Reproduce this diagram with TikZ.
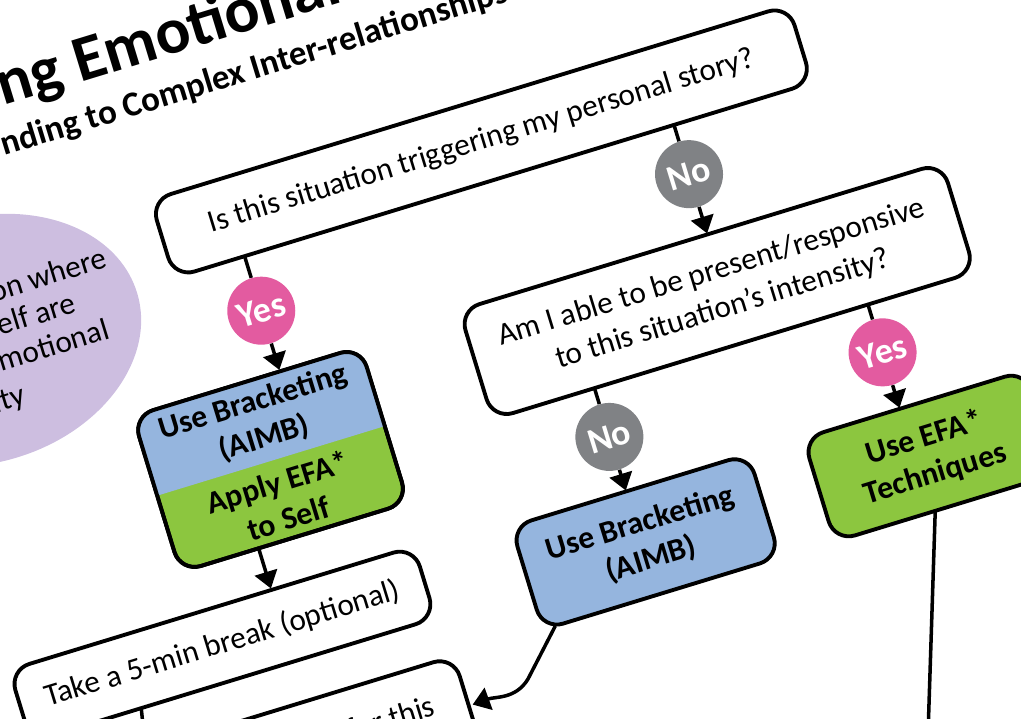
\documentclass[tikz,border=0pt]{standalone}
\usepackage{fontspec}
\setmainfont{Carlito}
\usetikzlibrary{arrows.meta,shapes.geometric}
\definecolor{pinkC}{HTML}{E35BA0}
\definecolor{greyC}{HTML}{808285}
\definecolor{blueC}{HTML}{95B5DE}
\definecolor{greenC}{HTML}{8CC63F}
\definecolor{purpleC}{HTML}{CDBEE0}
\begin{document}
\begin{tikzpicture}[x=0.02cm,y=-0.02cm,
  box/.style={draw, line width=2.2pt, rounded corners=0.42cm, inner sep=0pt, transform shape},
  qtext/.style={font=\fontsize{17.8}{22}\selectfont, align=center, transform shape},
  btext/.style={font=\fontsize{18.1}{21.5}\selectfont\bfseries, align=center, transform shape},
  badge/.style={circle, minimum size=1.36cm, inner sep=0pt, font=\fontsize{20.5}{22}\selectfont\bfseries, text=white, transform shape},
  link/.style={line width=2pt},
  arr/.style={line width=2pt, -{Triangle[width=0.46cm,length=0.34cm]}},
]
\useasboundingbox (0,0) rectangle (1021,719);
\clip (0,0) rectangle (1021,719);

% title and subtitle
\node[font=\fontsize{37}{40}\selectfont\bfseries, rotate=17, anchor=base west, inner sep=0pt] (title) at (3,106) {ng Emotional};
\node[font=\fontsize{19.9}{22}\selectfont\bfseries, rotate=17, anchor=base west, inner sep=0pt] (subtitle) at (4,156) {nding to Complex Inter-relationships};

\begin{scope}[rotate=17]
  % purple oval with its text
  \node[ellipse, fill=purpleC, minimum width=6.5cm, minimum height=4.9cm, transform shape] (oval) at (-117,320) {};
  \node[qtext, anchor=base east, inner sep=0pt] (o1) at (26,287) {on where};
  \node[qtext, anchor=base east, inner sep=0pt] (o2) at (-17,321) {elf are};
  \node[qtext, anchor=base east, inner sep=0pt] (o3) at (7.5,356) {motional};
  \node[qtext, anchor=base east, inner sep=0pt] (o4) at (-92,394) {ity};

  % boxes
  \node[box, qtext, fill=white, minimum width=13.34cm, minimum height=1.62cm] (q1) at (419,276) {Is this situation triggering my personal story?};
  \node[box, qtext, fill=white, minimum width=10.09cm, minimum height=2.28cm] (q2) at (600.8,488) {Am I able to be present/responsive\\to this situation’s intensity?};
  \node[box, fill=greenC, minimum width=4.76cm, minimum height=3.26cm] (lbox) at (124.4,518.5) {};
  \begin{scope}
    \clip[rounded corners=0.42cm] (5.4,437) rectangle (243.4,600);
    \fill[blueC] (0,430) rectangle (250,520);
  \end{scope}
  \node[box, minimum width=4.76cm, minimum height=3.26cm] (lboxrim) at (124.4,518.5) {};
  \node[btext] (lbt) at (124.4,478) {Use Bracketing\\(AIMB)};
  \node[btext] (lbb) at (124.4,561) {Apply EFA*\\to Self};
  \node[box, qtext, fill=white, minimum width=8.46cm, minimum height=1.5cm] (brk) at (24.4,681) {Take a 5-min break (optional)};
  \node[box, btext, fill=blueC, minimum width=4.96cm, minimum height=2.16cm] (bb) at (459,707) {Use Bracketing\\(AIMB)};
  \node[box, btext, fill=greenC, minimum width=4.64cm, minimum height=2.16cm] (gb) at (756,708) {Use EFA*\\Techniques};
  \node[box, fill=white, minimum width=8.64cm, minimum height=2.4cm] (fb) at (26,820) {};
  \node[qtext, anchor=base east, inner sep=0pt] (fbt) at (209,811) {for this};

  % badges
  \node[badge, fill=pinkC] (yes1) at (159,373.5) {Yes};
  \node[badge, fill=greyC] (no1) at (608,368) {No};
  \node[badge, fill=greyC] (no2) at (455,596) {No};
  \node[badge, fill=pinkC] (yes2) at (741,595) {Yes};

  % connector ends
  \coordinate (q1a) at (159,317);
  \coordinate (lbin) at (159,435.5);
  \coordinate (lbout) at (87,600);
  \coordinate (brkin) at (87,642);
  \coordinate (q1b) at (608,317);
  \coordinate (q2in) at (608,430);
  \coordinate (q2a) at (455,545);
  \coordinate (bbin) at (455,652);
  \coordinate (q2b) at (741,545);
  \coordinate (gbin) at (741,653);
  \coordinate (bbout) at (348,761);
  \coordinate (gbout) at (745,762);
  \coordinate (brkout) at (-72,718.6);
  \coordinate (fbin) at (246,812);
\end{scope}

\coordinate (bend) at (528,679);
\coordinate (gbend) at (928,735);
\coordinate (brkend) at (144,735);

\draw[link] (q1a) -- (yes1);
\draw[arr] (yes1) -- (lbin);
\draw[arr] (lbout) -- (brkin);
\draw[link] (q1b) -- (no1);
\draw[arr] (no1) -- (q2in);
\draw[link] (q2a) -- (no2);
\draw[arr] (no2) -- (bbin);
\draw[link] (q2b) -- (yes2);
\draw[arr] (yes2) -- (gbin);
\draw[arr] (bbout) -- (bend) to[out=239,in=20] (fbin);
\draw[link] (gbout) -- (gbend);
\draw[link] (brkout) -- (brkend);
\end{tikzpicture}
\end{document}
